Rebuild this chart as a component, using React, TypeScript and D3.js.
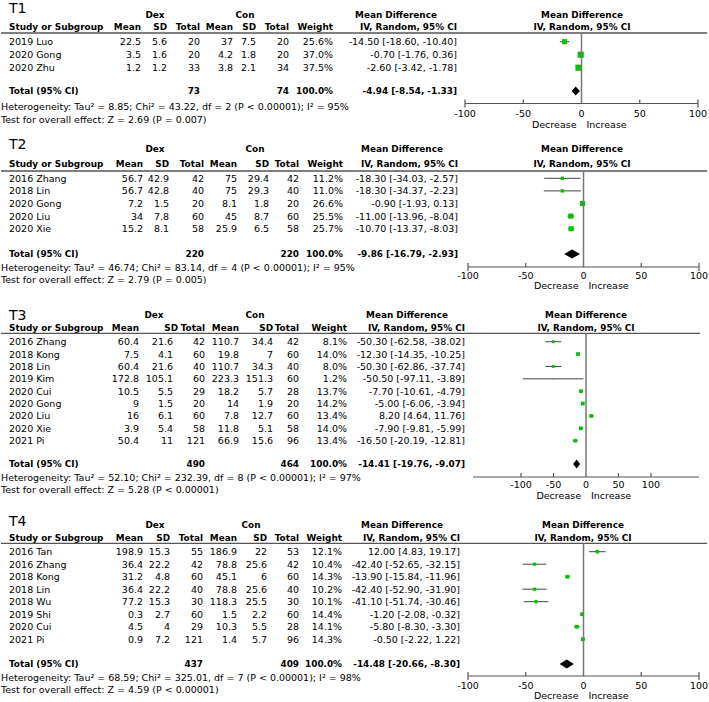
import React from "react";
import * as d3 from "d3";

type Study = {
  name: string;
  m1: number; s1: number; n1: number;
  m2: number; s2: number; n2: number;
  w: number; md: number; lo: number; hi: number;
};
type Total = { n1: number; n2: number; md: number; lo: number; hi: number };
type Stats = { tau2: number; chi2: number; df: number; i2: number; z: number; pz: string };

// T1
const t1Studies: Study[] = [
  { name: "2019 Luo", m1: 22.5, s1: 5.6, n1: 20, m2: 37, s2: 7.5, n2: 20, w: 25.6, md: -14.5, lo: -18.6, hi: -10.4 },
  { name: "2020 Gong", m1: 3.5, s1: 1.6, n1: 20, m2: 4.2, s2: 1.8, n2: 20, w: 37.0, md: -0.7, lo: -1.76, hi: 0.36 },
  { name: "2020 Zhu", m1: 1.2, s1: 1.2, n1: 33, m2: 3.8, s2: 2.1, n2: 34, w: 37.5, md: -2.6, lo: -3.42, hi: -1.78 },
];
const t1Total: Total = { n1: 73, n2: 74, md: -4.94, lo: -8.54, hi: -1.33 };
const t1Stats: Stats = { tau2: 8.85, chi2: 43.22, df: 2, i2: 95, z: 2.69, pz: "= 0.007" };

// T2
const t2Studies: Study[] = [
  { name: "2016 Zhang", m1: 56.7, s1: 42.9, n1: 42, m2: 75, s2: 29.4, n2: 42, w: 11.2, md: -18.3, lo: -34.03, hi: -2.57 },
  { name: "2018 Lin", m1: 56.7, s1: 42.8, n1: 40, m2: 75, s2: 29.3, n2: 40, w: 11.0, md: -18.3, lo: -34.37, hi: -2.23 },
  { name: "2020 Gong", m1: 7.2, s1: 1.5, n1: 20, m2: 8.1, s2: 1.8, n2: 20, w: 26.6, md: -0.9, lo: -1.93, hi: 0.13 },
  { name: "2020 Liu", m1: 34, s1: 7.8, n1: 60, m2: 45, s2: 8.7, n2: 60, w: 25.5, md: -11.0, lo: -13.96, hi: -8.04 },
  { name: "2020 Xie", m1: 15.2, s1: 8.1, n1: 58, m2: 25.9, s2: 6.5, n2: 58, w: 25.7, md: -10.7, lo: -13.37, hi: -8.03 },
];
const t2Total: Total = { n1: 220, n2: 220, md: -9.86, lo: -16.79, hi: -2.93 };
const t2Stats: Stats = { tau2: 46.74, chi2: 83.14, df: 4, i2: 95, z: 2.79, pz: "= 0.005" };

// T3
const t3Studies: Study[] = [
  { name: "2016 Zhang", m1: 60.4, s1: 21.6, n1: 42, m2: 110.7, s2: 34.4, n2: 42, w: 8.1, md: -50.3, lo: -62.58, hi: -38.02 },
  { name: "2018 Kong", m1: 7.5, s1: 4.1, n1: 60, m2: 19.8, s2: 7, n2: 60, w: 14.0, md: -12.3, lo: -14.35, hi: -10.25 },
  { name: "2018 Lin", m1: 60.4, s1: 21.6, n1: 40, m2: 110.7, s2: 34.3, n2: 40, w: 8.0, md: -50.3, lo: -62.86, hi: -37.74 },
  { name: "2019 Kim", m1: 172.8, s1: 105.1, n1: 60, m2: 223.3, s2: 151.3, n2: 60, w: 1.2, md: -50.5, lo: -97.11, hi: -3.89 },
  { name: "2020 Cui", m1: 10.5, s1: 5.5, n1: 29, m2: 18.2, s2: 5.7, n2: 28, w: 13.7, md: -7.7, lo: -10.61, hi: -4.79 },
  { name: "2020 Gong", m1: 9, s1: 1.5, n1: 20, m2: 14, s2: 1.9, n2: 20, w: 14.2, md: -5.0, lo: -6.06, hi: -3.94 },
  { name: "2020 Liu", m1: 16, s1: 6.1, n1: 60, m2: 7.8, s2: 12.7, n2: 60, w: 13.4, md: 8.2, lo: 4.64, hi: 11.76 },
  { name: "2020 Xie", m1: 3.9, s1: 5.4, n1: 58, m2: 11.8, s2: 5.1, n2: 58, w: 14.0, md: -7.9, lo: -9.81, hi: -5.99 },
  { name: "2021 Pi", m1: 50.4, s1: 11, n1: 121, m2: 66.9, s2: 15.6, n2: 96, w: 13.4, md: -16.5, lo: -20.19, hi: -12.81 },
];
const t3Total: Total = { n1: 490, n2: 464, md: -14.41, lo: -19.76, hi: -9.07 };
const t3Stats: Stats = { tau2: 52.1, chi2: 232.39, df: 8, i2: 97, z: 5.28, pz: "< 0.00001" };

// T4
const t4Studies: Study[] = [
  { name: "2016 Tan", m1: 198.9, s1: 15.3, n1: 55, m2: 186.9, s2: 22, n2: 53, w: 12.1, md: 12.0, lo: 4.83, hi: 19.17 },
  { name: "2016 Zhang", m1: 36.4, s1: 22.2, n1: 42, m2: 78.8, s2: 25.6, n2: 42, w: 10.4, md: -42.4, lo: -52.65, hi: -32.15 },
  { name: "2018 Kong", m1: 31.2, s1: 4.8, n1: 60, m2: 45.1, s2: 6, n2: 60, w: 14.3, md: -13.9, lo: -15.84, hi: -11.96 },
  { name: "2018 Lin", m1: 36.4, s1: 22.2, n1: 40, m2: 78.8, s2: 25.6, n2: 40, w: 10.2, md: -42.4, lo: -52.9, hi: -31.9 },
  { name: "2018 Wu", m1: 77.2, s1: 15.3, n1: 30, m2: 118.3, s2: 25.5, n2: 30, w: 10.1, md: -41.1, lo: -51.74, hi: -30.46 },
  { name: "2019 Shi", m1: 0.3, s1: 2.7, n1: 60, m2: 1.5, s2: 2.2, n2: 60, w: 14.4, md: -1.2, lo: -2.08, hi: -0.32 },
  { name: "2020 Cui", m1: 4.5, s1: 4, n1: 29, m2: 10.3, s2: 5.5, n2: 28, w: 14.1, md: -5.8, lo: -8.3, hi: -3.3 },
  { name: "2021 Pi", m1: 0.9, s1: 7.2, n1: 121, m2: 1.4, s2: 5.7, n2: 96, w: 14.3, md: -0.5, lo: -2.22, hi: 1.22 },
];
const t4Total: Total = { n1: 437, n2: 409, md: -14.48, lo: -20.66, hi: -8.3 };
const t4Stats: Stats = { tau2: 68.59, chi2: 325.01, df: 7, i2: 98, z: 4.59, pz: "< 0.00001" };

const axisTicks = [-100, -50, 0, 50, 100];

const FONT = "'DejaVu Sans', Verdana, sans-serif";
const FS = 9.5;
const FSB = 8.9;
const GREEN = "#00c400";

const boxSize = d3.scaleSqrt().domain([0, 37.5]).range([0, 6.2]);

const fmt = (v: number) => v.toFixed(2);
const ciText = (md: number, lo: number, hi: number) => `${fmt(md)} [${fmt(lo)}, ${fmt(hi)}]`;

type Layout = {
  title: string;
  titleY: number; groupY: number; headY: number; ruleY: number;
  rowY0: number; rowStep: number; totalY: number; hetY: number; testY: number;
  axisY: number; tickY: number; dirY: number;
  cols: number[]; // mean1 sd1 n1 mean2 sd2 n2 weight md
  sd1Head: number;
  dexX: number; conX: number; mdHeadX: number; plotHeadX: number;
  xDomain: [number, number]; xRange: [number, number];
  ruleEnd: number; caps: boolean;
};

const T = (props: any) => (
  <text fontFamily={FONT} fontSize={FS} dominantBaseline="central" fill="#000" {...props} />
);
const B = (props: any) => (
  <text fontFamily={FONT} fontSize={FSB} fontWeight="bold" dominantBaseline="central" fill="#000" {...props} />
);

function Panel({ studies, total, stats, L }: { studies: Study[]; total: Total; stats: Stats; L: Layout }) {
  const x = d3.scaleLinear().domain(L.xDomain).range(L.xRange);
  const [cM1, cS1, cN1, cM2, cS2, cN2, cW, cMD] = L.cols;
  const rowY = (i: number) => L.rowY0 + i * L.rowStep;
  const x0 = x(0);
  const ty = L.totalY;
  return (
    <g>
      <text x={9} y={L.titleY} fontFamily={FONT} fontSize={14} dominantBaseline="central">{L.title}</text>
      <B x={L.dexX} y={L.groupY} textAnchor="middle">Dex</B>
      <B x={L.conX} y={L.groupY} textAnchor="middle">Con</B>
      <B x={L.mdHeadX} y={L.groupY} textAnchor="middle">Mean Difference</B>
      <B x={L.plotHeadX} y={L.groupY} textAnchor="middle">Mean Difference</B>

      <B x={9} y={L.headY}>Study or Subgroup</B>
      <B x={cM1} y={L.headY} textAnchor="end">Mean</B>
      <B x={L.sd1Head} y={L.headY} textAnchor="end">SD</B>
      <B x={cN1} y={L.headY} textAnchor="end">Total</B>
      <B x={cM2} y={L.headY} textAnchor="end">Mean</B>
      <B x={cS2} y={L.headY} textAnchor="end">SD</B>
      <B x={cN2} y={L.headY} textAnchor="end">Total</B>
      <B x={cW} y={L.headY} textAnchor="end">Weight</B>
      <B x={cMD} y={L.headY} textAnchor="end">IV, Random, 95% CI</B>
      <B x={L.plotHeadX} y={L.headY} textAnchor="middle">IV, Random, 95% CI</B>
      <line x1={1} x2={L.ruleEnd} y1={L.ruleY} y2={L.ruleY} stroke="#555" strokeWidth={1.3} />

      {studies.map((s, i) => {
        const y = rowY(i);
        const b = boxSize(s.w);
        return (
          <g key={s.name}>
            <T x={9} y={y}>{s.name}</T>
            <T x={cM1} y={y} textAnchor="end">{String(s.m1)}</T>
            <T x={cS1} y={y} textAnchor="end">{String(s.s1)}</T>
            <T x={cN1} y={y} textAnchor="end">{String(s.n1)}</T>
            <T x={cM2} y={y} textAnchor="end">{String(s.m2)}</T>
            <T x={cS2} y={y} textAnchor="end">{String(s.s2)}</T>
            <T x={cN2} y={y} textAnchor="end">{String(s.n2)}</T>
            <T x={cW} y={y} textAnchor="end">{s.w.toFixed(1) + "%"}</T>
            <T x={cMD} y={y} textAnchor="end">{ciText(s.md, s.lo, s.hi)}</T>
            <line x1={x(s.lo)} x2={x(s.hi)} y1={y} y2={y} stroke="#444" strokeWidth={1} />
            <rect x={x(s.md) - b / 2} y={y - b / 2} width={b} height={b} fill={GREEN} />
          </g>
        );
      })}

      <B x={9} y={ty}>Total (95% CI)</B>
      <B x={cN1} y={ty} textAnchor="end">{String(total.n1)}</B>
      <B x={cN2} y={ty} textAnchor="end">{String(total.n2)}</B>
      <B x={cW} y={ty} textAnchor="end">100.0%</B>
      <B x={cMD} y={ty} textAnchor="end">{ciText(total.md, total.lo, total.hi)}</B>
      <path
        d={`M${x(total.lo)},${ty}L${x(total.md)},${ty - 4.5}L${x(total.hi)},${ty}L${x(total.md)},${ty + 4.5}Z`}
        fill="#000"
      />

      <T x={1} y={L.hetY}>
        {`Heterogeneity: Tau² = ${fmt(stats.tau2)}; Chi² = ${fmt(stats.chi2)}, df = ${stats.df} (P < 0.00001); I² = ${stats.i2}%`}
      </T>
      <T x={1} y={L.testY}>{`Test for overall effect: Z = ${fmt(stats.z)} (P ${stats.pz})`}</T>

      {/* zero line */}
      <line x1={x0} x2={x0} y1={L.ruleY} y2={L.axisY} stroke="#777" strokeWidth={1.5} />
      {/* axis */}
      <line x1={L.xRange[0]} x2={L.xRange[1]} y1={L.axisY} y2={L.axisY} stroke="#555" strokeWidth={1.2} />
      {axisTicks.map((t) => {
        const isEnd = L.caps && Math.abs(t) === 100;
        return (
          <g key={t}>
            {t !== 0 && (
              <line
                x1={x(t)} x2={x(t)}
                y1={L.axisY - 4} y2={isEnd ? L.axisY + 4 : L.axisY}
                stroke="#555" strokeWidth={1.2}
              />
            )}
            <T x={x(t)} y={L.tickY} textAnchor="middle">{t < 0 ? "-" + Math.abs(t) : String(t)}</T>
          </g>
        );
      })}
      <T x={x0 - 5} y={L.dirY} textAnchor="end">Decrease</T>
      <T x={x0 + 5} y={L.dirY}>Increase</T>
    </g>
  );
}

const L1: Layout = {
  title: "T1", titleY: 8, groupY: 15, headY: 27, ruleY: 33,
  rowY0: 41.7, rowStep: 13, totalY: 91, hetY: 106, testY: 119,
  axisY: 103.5, tickY: 113, dirY: 124,
  cols: [141, 167, 200, 233, 256, 289, 333, 457], sd1Head: 167,
  dexX: 155, conX: 245, mdHeadX: 396, plotHeadX: 582,
  xDomain: [-100, 100], xRange: [465, 698], ruleEnd: 707, caps: true,
};
const L2: Layout = {
  title: "T2", titleY: 144, groupY: 149, headY: 164, ruleY: 171,
  rowY0: 178.3, rowStep: 12.6, totalY: 254, hetY: 267, testY: 279,
  axisY: 267, tickY: 275.5, dirY: 285.5,
  cols: [143, 169, 204, 237, 269, 299, 343, 458], sd1Head: 169,
  dexX: 155, conX: 255, mdHeadX: 402, plotHeadX: 582,
  xDomain: [-100, 100], xRange: [468, 699], ruleEnd: 707, caps: true,
};
const L3: Layout = {
  title: "T3", titleY: 315, groupY: 315, headY: 327.5, ruleY: 333.3,
  rowY0: 341.7, rowStep: 12.375, totalY: 464, hetY: 477, testY: 489,
  axisY: 477, tickY: 484.5, dirY: 495.5,
  cols: [139, 173, 205, 239, 273, 299, 347, 465], sd1Head: 178,
  dexX: 154, conX: 255, mdHeadX: 407, plotHeadX: 586,
  xDomain: [-174, 174], xRange: [473, 699], ruleEnd: 700, caps: false,
};
const L4: Layout = {
  title: "T4", titleY: 521, groupY: 525, headY: 537.5, ruleY: 543.3,
  rowY0: 551.7, rowStep: 12.5, totalY: 664, hetY: 677, testY: 689,
  axisY: 676, tickY: 685, dirY: 695.5,
  cols: [143, 170, 203, 237, 267, 299, 342, 460], sd1Head: 170,
  dexX: 155, conX: 251, mdHeadX: 402, plotHeadX: 583,
  xDomain: [-100, 100], xRange: [468, 699], ruleEnd: 707, caps: true,
};

export default function App() {
  return (
    <>
      <style>{`body{margin:0;background:#fff}`}</style>
      <svg width={709} height={702} style={{ display: "block" }}>
        <rect width={709} height={702} fill="#fff" />
        <Panel studies={t1Studies} total={t1Total} stats={t1Stats} L={L1} />
        <Panel studies={t2Studies} total={t2Total} stats={t2Stats} L={L2} />
        <Panel studies={t3Studies} total={t3Total} stats={t3Stats} L={L3} />
        <Panel studies={t4Studies} total={t4Total} stats={t4Stats} L={L4} />
      </svg>
    </>
  );
}
